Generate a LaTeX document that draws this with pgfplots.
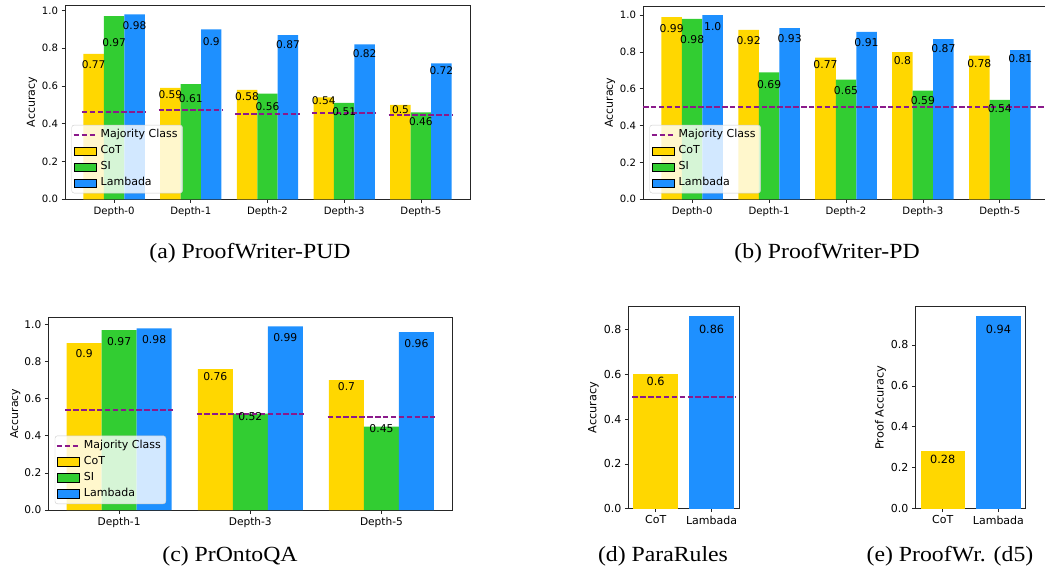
\documentclass[border=0pt]{standalone}
\usepackage{pgfplots}
\pgfplotsset{compat=1.18}
\usepackage{pgfplotstable}
\usepackage{fontspec}
\setmainfont{DejaVu Sans}
\newfontfamily\capfont[FakeStretch=1.1]{Liberation Serif}

\definecolor{cotcol}{HTML}{FFD700}
\definecolor{sicol}{HTML}{32CD32}
\definecolor{lamcol}{HTML}{1E90FF}
\definecolor{majcol}{HTML}{8B1A8B}

\pgfplotstableread{
x cot si lam
0 0.77 0.97 0.98
1 0.59 0.61 0.90
2 0.58 0.56 0.87
3 0.54 0.51 0.82
4 0.50 0.46 0.72
}\dataA

\pgfplotstableread{
x cot si lam
0 0.99 0.98 1.00
1 0.92 0.69 0.93
2 0.77 0.65 0.91
3 0.80 0.59 0.87
4 0.78 0.54 0.81
}\dataB

\pgfplotstableread{
x cot si lam
0 0.90 0.97 0.98
1 0.76 0.52 0.99
2 0.70 0.45 0.96
}\dataC

\pgfplotsset{
 base/.style={
  scale only axis,
  anchor=south west,
  ymin=0,
  axis line style={black!85, line width=0.8pt},
  tick align=outside,
  major tick length=3.5pt,
  every tick/.style={black!85, line width=0.8pt},
  xtick pos=left, ytick pos=left,
  yticklabel style={/pgf/number format/fixed, /pgf/number format/fixed zerofill, /pgf/number format/precision=1, /pgf/number format/assume math mode=true},
  ylabel style={anchor=center},
  legend cell align=left,
  legend style={at={(axis description cs:0,0)}, anchor=south west, xshift=6.5pt, yshift=6pt,
    fill=white, fill opacity=0.8, draw opacity=1, text opacity=1, draw=black!20,
    rounded corners=2.5pt, font=\fontsize{11}{13}\selectfont, inner xsep=1pt, inner ysep=2pt, row sep=0pt,
    nodes={inner ysep=2.75pt, inner xsep=4pt, text height=8pt, text depth=2.5pt}},
 },
 fs/.style n args={3}{
  tick label style={font=\fontsize{#1}{12}\selectfont, black},
  nodes near coords style={font=\fontsize{#2}{12}\selectfont, anchor=center, inner sep=0pt, black},
  ylabel style={font=\fontsize{#3}{13}\selectfont},
 },
 lab/.style={draw=none, mark=none, nodes near coords, point meta=explicit symbolic, forget plot},
 maj/.style={color=majcol, line width=2pt, dash pattern=on 5.5pt off 2.4pt, forget plot, mark=none, unbounded coords=jump},
 barc/.style={ybar, bar width=0.2667, bar shift=0pt, draw=none, fill=#1, forget plot},
}

\newcommand{\legendstuff}{%
 \addlegendimage{legend image code/.code={\draw[color=majcol, sharp corners, line width=2pt, dash pattern=on 5.5pt off 2.4pt] (0pt,0pt) -- (22pt,0pt);}}
 \addlegendentry{Majority Class}
 \addlegendimage{legend image code/.code={\fill[fill=cotcol, sharp corners, fill opacity=1] (0pt,-4.2pt) rectangle (22pt,4.2pt);}}
 \addlegendentry{CoT}
 \addlegendimage{legend image code/.code={\fill[fill=sicol, sharp corners, fill opacity=1] (0pt,-4.2pt) rectangle (22pt,4.2pt);}}
 \addlegendentry{SI}
 \addlegendimage{legend image code/.code={\fill[fill=lamcol, sharp corners, fill opacity=1] (0pt,-4.2pt) rectangle (22pt,4.2pt);}}
 \addlegendentry{Lambada}
}

\begin{document}
\begin{tikzpicture}
\useasboundingbox (0pt,0pt) rectangle (1045pt,574pt);

% ---------------- (a)
\begin{axis}[base, fs={10.1}{10.6}{11}, at={(65pt,374.7pt)}, width=405pt, height=194.3pt,
  xmin=-0.64, xmax=4.64, ymax=1.029,
  xtick={0,1,2,3,4}, xticklabels={Depth-0,Depth-1,Depth-2,Depth-3,Depth-5},
  ytick={0,0.2,0.4,0.6,0.8,1},
  ylabel={Accuracy}, ylabel style={at={(axis description cs:-0.0815,0.5)}}]
\legendstuff
\addplot[barc=cotcol] table[x expr=\thisrow{x}-0.2667, y=cot] \dataA;
\addplot[barc=sicol] table[x=x, y=si] \dataA;
\addplot[barc=lamcol] table[x expr=\thisrow{x}+0.2667, y=lam] \dataA;
\addplot[maj] coordinates {(-0.42,0.461) (0.42,0.461) (0.5,nan) (0.58,0.473) (1.42,0.473) (1.5,nan)
  (1.58,0.454) (2.42,0.454) (2.5,nan) (2.58,0.457) (3.42,0.457) (3.5,nan) (3.58,0.448) (4.42,0.448)};
\addplot[lab] table[meta=lab] {
x y lab
-0.2667 0.712 0.77
0.7333 0.552 0.59
1.7333 0.545 0.58
2.7333 0.521 0.54
3.7333 0.477 0.5
0 0.829 0.97
1 0.535 0.61
2 0.491 0.56
3 0.464 0.51
4 0.409 0.46
0.2667 0.920 0.98
1.2667 0.833 0.9
2.2667 0.818 0.87
3.2667 0.774 0.82
4.2667 0.681 0.72
};
\end{axis}

% ---------------- (b)
\begin{axis}[base, fs={10.1}{10.8}{11}, at={(643pt,374.7pt)}, width=406pt, height=193.3pt,
  xmin=-0.64, xmax=4.64, ymax=1.05,
  xtick={0,1,2,3,4}, xticklabels={Depth-0,Depth-1,Depth-2,Depth-3,Depth-5},
  ytick={0,0.2,0.4,0.6,0.8,1},
  ylabel={Accuracy}, ylabel style={at={(axis description cs:-0.0813,0.5)}}]
\legendstuff
\addplot[barc=cotcol] table[x expr=\thisrow{x}-0.2667, y=cot] \dataB;
\addplot[barc=sicol] table[x=x, y=si] \dataB;
\addplot[barc=lamcol] table[x expr=\thisrow{x}+0.2667, y=lam] \dataB;
\addplot[maj] coordinates {(-0.64,0.5) (4.64,0.5)};
\addplot[lab] table[meta=lab] {
x y lab
-0.2667 0.927 0.99
0.7333 0.864 0.92
1.7333 0.731 0.77
2.7333 0.751 0.8
3.7333 0.738 0.78
0 0.869 0.98
1 0.622 0.69
2 0.591 0.65
3 0.538 0.59
4 0.493 0.54
0.2667 0.938 1.0
1.2667 0.873 0.93
2.2667 0.851 0.91
3.2667 0.820 0.87
4.2667 0.765 0.81
};
\end{axis}

% ---------------- (c)
\begin{axis}[base, fs={10.6}{10.8}{10.9}, at={(48.3pt,64pt)}, width=404pt, height=192.7pt,
  xmin=-0.54, xmax=2.54, ymax=1.0395,
  xtick={0,1,2}, xticklabels={Depth-1,Depth-3,Depth-5},
  ytick={0,0.2,0.4,0.6,0.8,1},
  ylabel={Accuracy}, ylabel style={at={(axis description cs:-0.0817,0.5)}}]
\legendstuff
\addplot[barc=cotcol] table[x expr=\thisrow{x}-0.2667, y=cot] \dataC;
\addplot[barc=sicol] table[x=x, y=si] \dataC;
\addplot[barc=lamcol] table[x expr=\thisrow{x}+0.2667, y=lam] \dataC;
\addplot[maj] coordinates {(-0.41,0.539) (0.41,0.539) (0.5,nan) (0.59,0.516) (1.41,0.516) (1.5,nan) (1.59,0.499) (2.41,0.499)};
\addplot[lab] table[meta=lab] {
x y lab
-0.2667 0.846 0.9
0.7333 0.720 0.76
1.7333 0.666 0.7
0 0.910 0.97
1 0.503 0.52
2 0.440 0.45
0.2667 0.919 0.98
1.2667 0.928 0.99
2.2667 0.900 0.96
};
\end{axis}

% ---------------- (d)
\begin{axis}[base, fs={11}{11.3}{11.3}, at={(628.3pt,65.3pt)}, width=110.7pt, height=202pt,
  xmin=-0.49, xmax=1.49, ymax=0.903,
  xtick={0,1}, xticklabels={CoT,Lambada},
  ytick={0,0.2,0.4,0.6,0.8},
  ylabel={Accuracy}, ylabel style={at={(axis description cs:-0.316,0.5)}}]
\addplot[ybar, bar width=0.8, bar shift=0pt, draw=none, fill=cotcol, forget plot] coordinates {(0,0.60)};
\addplot[ybar, bar width=0.8, bar shift=0pt, draw=none, fill=lamcol, forget plot] coordinates {(1,0.86)};
\addplot[maj] coordinates {(-0.42,0.5) (1.42,0.5)};
\addplot[lab] table[meta=lab] {
x y lab
0 0.57 0.6
1 0.80 0.86
};
\end{axis}

% ---------------- (e)
\begin{axis}[base, fs={11}{11.3}{11.3}, at={(915.5pt,65.3pt)}, width=110.2pt, height=202pt,
  xmin=-0.49, xmax=1.49, ymax=0.987,
  xtick={0,1}, xticklabels={CoT,Lambada},
  ytick={0,0.2,0.4,0.6,0.8},
  ylabel={Proof Accuracy}, ylabel style={at={(axis description cs:-0.318,0.5)}}]
\addplot[ybar, bar width=0.8, bar shift=0pt, draw=none, fill=cotcol, forget plot] coordinates {(0,0.28)};
\addplot[ybar, bar width=0.8, bar shift=0pt, draw=none, fill=lamcol, forget plot] coordinates {(1,0.94)};
\addplot[lab] table[meta=lab] {
x y lab
0 0.243 0.28
1 0.878 0.94
};
\end{axis}

% captions
\node[font=\capfont\fontsize{21.6}{24}\selectfont, anchor=base] at (250pt,315pt) {(a) ProofWriter-PUD};
\node[font=\capfont\fontsize{21.6}{24}\selectfont, anchor=base] at (827pt,315pt) {(b) ProofWriter-PD};
\node[font=\capfont\fontsize{21.6}{24}\selectfont, anchor=base] at (230pt,12.3pt) {(c) PrOntoQA};
\node[font=\capfont\fontsize{21.6}{24}\selectfont, anchor=base] at (663pt,12.3pt) {(d) ParaRules};
\node[font=\capfont\fontsize{21.6}{24}\selectfont, anchor=base] at (950pt,12.3pt) {(e) ProofWr. (d5)};
\end{tikzpicture}
\end{document}
